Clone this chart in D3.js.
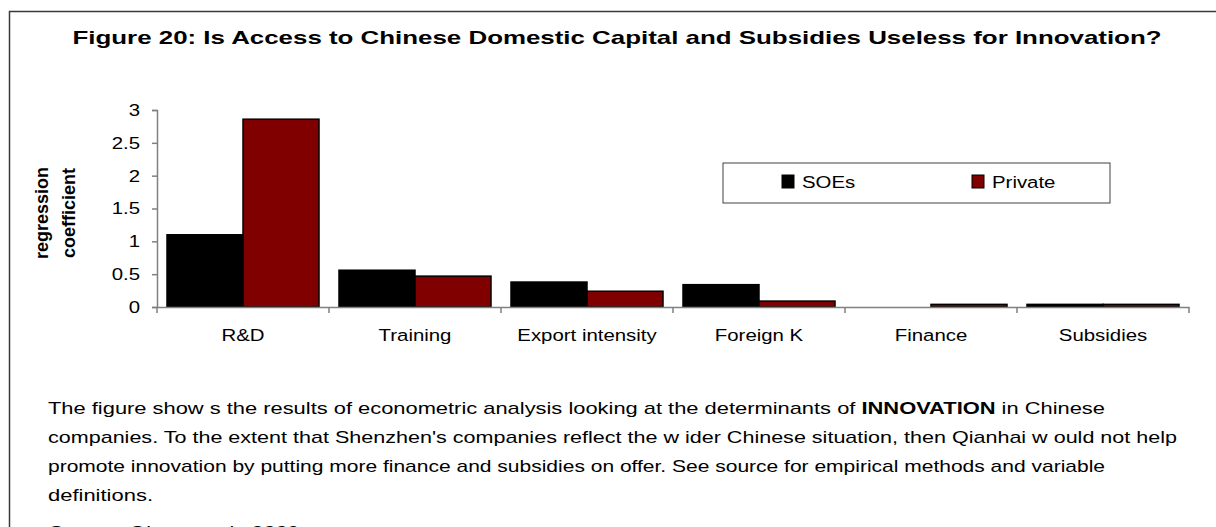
<!DOCTYPE html>
<html>
<head>
<meta charset="utf-8">
<script src="https://cdn.jsdelivr.net/npm/d3@7"></script>
<style>
  body { margin: 0; background: #fff; }
  text { font-family: "Liberation Sans", Arial, sans-serif; }
</style>
</head>
<body>
<svg id="chart"></svg>
<script>
// data
const categories = ["R&D", "Training", "Export intensity", "Foreign K", "Finance", "Subsidies"];
const seriesNames = ["SOEs", "Private"];
const soeValues = [1.1, 0.56, 0.38, 0.34, 0, 0.04];
const privateValues = [2.86, 0.47, 0.24, 0.09, 0.04, 0.04];
const yTicks = [0, 0.5, 1, 1.5, 2, 2.5, 3];
const colors = ["#000000", "#800000"];

const titleText = "Figure 20: Is Access to Chinese Domestic Capital and Subsidies Useless for Innovation?";
const yLabelLines = ["regression", "coefficient"];
const bodyLines = [
  ["The figure show s the results of econometric analysis looking at the determinants of ", "INNOVATION", " in Chinese"],
  ["companies. To the extent that Shenzhen's companies reflect the w ider Chinese situation, then Qianhai w ould not help"],
  ["promote innovation by putting more finance and subsidies on offer. See source for empirical methods and variable"],
  ["definitions."]
];
const sourceText = "Source: Girma et al., 2009";

const width = 1216, height = 527;
const k = 1.2; // horizontal stretch of the small labels

const svg = d3.select("#chart").attr("width", width).attr("height", height);
svg.append("rect").attr("width", width).attr("height", height).attr("fill", "#fff");

// outer frame (only left and top edges are in the picture)
svg.append("path")
  .attr("d", "M9.5," + height + "V11.5H" + width)
  .attr("fill", "none").attr("stroke", "#3a3a3a").attr("stroke-width", 1.5);

// title, stretched to the width it has in the picture
svg.append("text")
  .attr("x", 617).attr("y", 44)
  .attr("text-anchor", "middle")
  .attr("font-size", 19).attr("font-weight", "bold")
  .attr("textLength", 1089).attr("lengthAdjust", "spacingAndGlyphs")
  .text(titleText);

// scales
const x0 = d3.scaleBand().domain(categories).range([157, 1189]).padding(0);
const x1 = d3.scaleBand().domain(seriesNames).range([10, x0.bandwidth() - 10]).padding(0);
const y = d3.scaleLinear().domain([0, 3]).range([307, 110]);

const table = categories.map((c, i) => ({ cat: c, values: [soeValues[i], privateValues[i]] }));

// bars
const groups = svg.append("g").selectAll("g")
  .data(table).join("g")
  .attr("transform", (d) => `translate(${x0(d.cat)},0)`);

groups.selectAll("rect")
  .data((d) => d.values.map((v, j) => ({ name: seriesNames[j], v: v, j: j })))
  .join("rect")
  .filter((d) => d.v > 0)
  .attr("x", (d) => x1(d.name))
  .attr("width", x1.bandwidth())
  .attr("y", (d) => y(d.v))
  .attr("height", (d) => y(0) - y(d.v))
  .attr("fill", (d) => colors[d.j])
  .attr("stroke", "#000").attr("stroke-width", 1.5);

// y axis
const yAxis = svg.append("g")
  .attr("transform", "translate(157,0)")
  .call(d3.axisLeft(y).tickValues(yTicks).tickSize(5).tickFormat(d3.format("")));
yAxis.select(".domain").attr("stroke", "#808080").attr("stroke-width", 1.5);
yAxis.selectAll(".tick line").attr("stroke", "#808080").attr("stroke-width", 1.5);
yAxis.selectAll(".tick text")
  .attr("font-size", 17).attr("fill", "#000")
  .attr("font-family", "Liberation Sans, Arial, sans-serif")
  .attr("x", -17 / k).attr("transform", `scale(${k},1)`);

// x axis: labels at the band centres, ticks at the band edges
const xAxis = svg.append("g")
  .attr("transform", "translate(0,307)")
  .call(d3.axisBottom(x0).tickSize(0).tickPadding(0));
xAxis.select(".domain").attr("stroke", "#808080").attr("stroke-width", 1.5);
xAxis.selectAll(".tick text")
  .attr("font-size", 17).attr("fill", "#000")
  .attr("font-family", "Liberation Sans, Arial, sans-serif")
  .attr("dy", null).attr("y", 34)
  .attr("transform", `scale(${k},1)`);

const edges = categories.map((c) => x0(c)).concat([x0.range()[1]]);
svg.append("g").selectAll("line")
  .data(edges).join("line")
  .attr("x1", (d) => d).attr("x2", (d) => d)
  .attr("y1", 307).attr("y2", 313)
  .attr("stroke", "#808080").attr("stroke-width", 1.5);

// y axis title
const yLab = svg.append("text")
  .attr("transform", "translate(0,213) rotate(-90)")
  .attr("text-anchor", "middle")
  .attr("font-size", 18).attr("font-weight", "bold");
yLabelLines.forEach((t, i) => {
  yLab.append("tspan").attr("x", 0).attr("y", 48 + i * 27).text(t);
});

// legend
const legend = svg.append("g").attr("transform", "translate(723,163)");
legend.append("rect")
  .attr("width", 387).attr("height", 40)
  .attr("fill", "#fff").attr("stroke", "#404040").attr("stroke-width", 1);
const legendX = [59, 249];
seriesNames.forEach((name, i) => {
  legend.append("rect")
    .attr("x", legendX[i]).attr("y", 12)
    .attr("width", 12).attr("height", 13)
    .attr("fill", colors[i]).attr("stroke", "#000").attr("stroke-width", 1);
  legend.append("text")
    .attr("x", (legendX[i] + 20) / k).attr("y", 25)
    .attr("transform", `scale(${k},1)`)
    .attr("font-size", 17)
    .text(name);
});

// note under the chart, each line fitted to the width it has in the picture
const lineY = [414, 443, 472, 501];
const lineW = [1057, 1129, 1057, 105];
bodyLines.forEach((parts, i) => {
  const t = svg.append("text")
    .attr("x", 48).attr("y", lineY[i])
    .attr("font-size", 17)
    .attr("textLength", lineW[i]).attr("lengthAdjust", "spacingAndGlyphs");
  parts.forEach((p) => {
    const s = t.append("tspan").text(p);
    if (p === "INNOVATION") s.attr("font-weight", "bold");
  });
});

svg.append("text")
  .attr("x", 48).attr("y", 538)
  .attr("font-size", 17).attr("font-style", "italic")
  .attr("textLength", 250).attr("lengthAdjust", "spacingAndGlyphs")
  .text(sourceText);
</script>
</body>
</html>
